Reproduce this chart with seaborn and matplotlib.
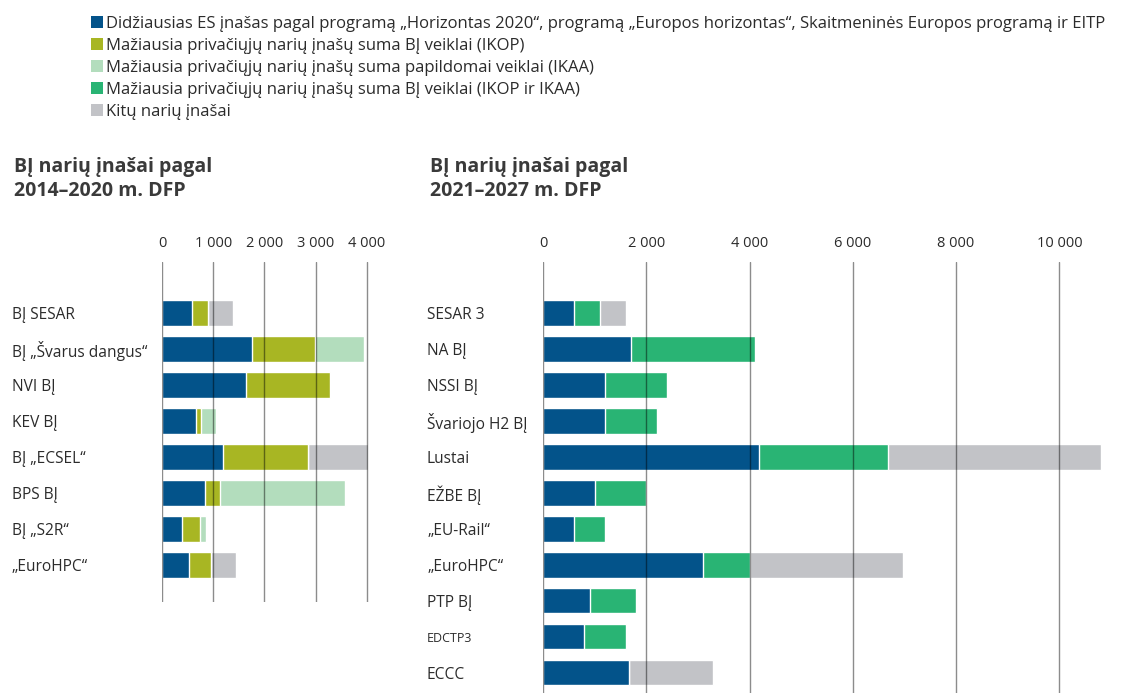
import matplotlib
matplotlib.use("Agg")
import matplotlib.pyplot as plt
import numpy as np
import pandas as pd
import seaborn as sns
from matplotlib.patches import Patch

sns.set_theme(style="white")
plt.rcParams["font.family"] = ["Open Sans", "DejaVu Sans"]

# ---------------------------------------------------------------------
# data (EUR million)
# ---------------------------------------------------------------------
left_labels = ["BĮ SESAR", "BĮ „Švarus dangus“", "NVI BĮ", "KEV BĮ",
               "BĮ „ECSEL“", "BPS BĮ", "BĮ „S2R“", "„EuroHPC“"]
left_eu = [592, 1755, 1638, 665, 1185, 835, 398, 536]
left_ikop = [300, 1228, 1638, 95, 1665, 293, 352, 423]
left_ikaa = [0, 965, 0, 290, 0, 2446, 118, 0]
left_other = [495, 0, 0, 0, 1170, 0, 0, 488]

right_labels = ["SESAR 3", "NA BĮ", "NSSI BĮ", "Švariojo H2 BĮ", "Lustai",
                "EŽBE BĮ", "„EU-Rail“", "„EuroHPC“", "PTP BĮ", "EDCTP3", "ECCC"]
right_eu = [600, 1700, 1200, 1200, 4175, 1000, 600, 3090, 910, 800, 1660]
right_both = [500, 2400, 1200, 1000, 2515, 1000, 600, 910, 895, 800, 0]
right_other = [500, 0, 0, 0, 4115, 0, 0, 2980, 0, 0, 1640]

left_ticks = [0, 1000, 2000, 3000, 4000]
right_ticks = [0, 2000, 4000, 6000, 8000, 10000]

legend_labels = [
    "Didžiausias ES įnašas pagal programą „Horizontas 2020“, programą „Europos horizontas“, Skaitmeninės Europos programą ir EITP",
    "Mažiausia privačiųjų narių įnašų suma BĮ veiklai (IKOP)",
    "Mažiausia privačiųjų narių įnašų suma papildomai veiklai (IKAA)",
    "Mažiausia privačiųjų narių įnašų suma BĮ veiklai (IKOP ir IKAA)",
    "Kitų narių įnašai",
]

C_EU = "#03538a"
C_IKOP = "#a8b623"
C_IKAA = "#b3ddbd"
C_BOTH = "#29b474"
C_OTHER = "#c2c3c7"
TXT = "#2b2b2b"

W, H = 1123, 693
fig = plt.figure(figsize=(W / 100, H / 100), dpi=100)


def px_axes(x0, x1, y_top, y_bot):
    return fig.add_axes([x0 / W, 1 - y_bot / H, (x1 - x0) / W, (y_bot - y_top) / H])


def stacked(ax, labels, parts, colors):
    # draw cumulative totals from longest to shortest so they stack visually
    cum = np.cumsum(np.array(parts, dtype=float), axis=0)
    for vals, col in reversed(list(zip(cum, colors))):
        d = pd.DataFrame({"label": labels, "value": vals})
        sns.barplot(data=d, y="label", x="value", order=labels, orient="h",
                    color=col, width=0.7, saturation=1, ax=ax, zorder=1)


def style(ax, ticks, xmax, ytop, ybot, pad_px):
    ax.set_xlim(0, xmax)
    ax.set_ylim(ybot, ytop)
    ax.set_xlabel("")
    ax.set_ylabel("")
    for s in ax.spines.values():
        s.set_visible(False)
    ax.xaxis.tick_top()
    ax.set_xticks(ticks)
    ax.set_xticklabels([f"{t:,}".replace(",", " ") for t in ticks])
    ax.tick_params(axis="x", length=0, pad=8, labelsize=10.5, labelcolor=TXT)
    ax.tick_params(axis="y", length=0, pad=pad_px * 0.72, labelsize=11.2, labelcolor=TXT)
    for lab in ax.get_yticklabels():
        lab.set_horizontalalignment("left")
    ax.set_axisbelow(False)
    ax.grid(axis="x", color="black", alpha=0.45, linewidth=1)
    ax.grid(axis="y", visible=False)


# left chart: 2014-2020
axl = px_axes(162, 372, 262, 602)
stacked(axl, left_labels, [left_eu, left_ikop, left_ikaa, left_other],
        [C_EU, C_IKOP, C_IKAA, C_OTHER])
style(axl, left_ticks, 4100, -1.42, 8.03, 150)

# right chart: 2021-2027
axr = px_axes(543, 1111, 262, 693)
stacked(axr, right_labels, [right_eu, right_both, right_other],
        [C_EU, C_BOTH, C_OTHER])
style(axr, right_ticks, 11000, -1.42, 10.56, 116)
for lab in axr.get_yticklabels():
    if lab.get_text() == "EDCTP3":
        lab.set_fontsize(9)

fig.text(14 / W, 1 - 157 / H, "BĮ narių įnašai pagal\n2014–2020 m. DFP",
         fontsize=14, fontweight="bold", color="#3a3a3a", va="top", linespacing=1.3)
fig.text(430 / W, 1 - 157 / H, "BĮ narių įnašai pagal\n2021–2027 m. DFP",
         fontsize=14, fontweight="bold", color="#3a3a3a", va="top", linespacing=1.3)

handles = [Patch(facecolor=c, edgecolor="none")
           for c in [C_EU, C_IKOP, C_IKAA, C_BOTH, C_OTHER]]
fig.legend(handles, legend_labels, loc="upper left",
           bbox_to_anchor=(84 / W, 1 - 9 / H), frameon=False, fontsize=12,
           handlelength=0.75, handleheight=0.75, handletextpad=0.2,
           labelspacing=0.36, borderaxespad=0, labelcolor=TXT)

fig.savefig("out.png", dpi=100)
